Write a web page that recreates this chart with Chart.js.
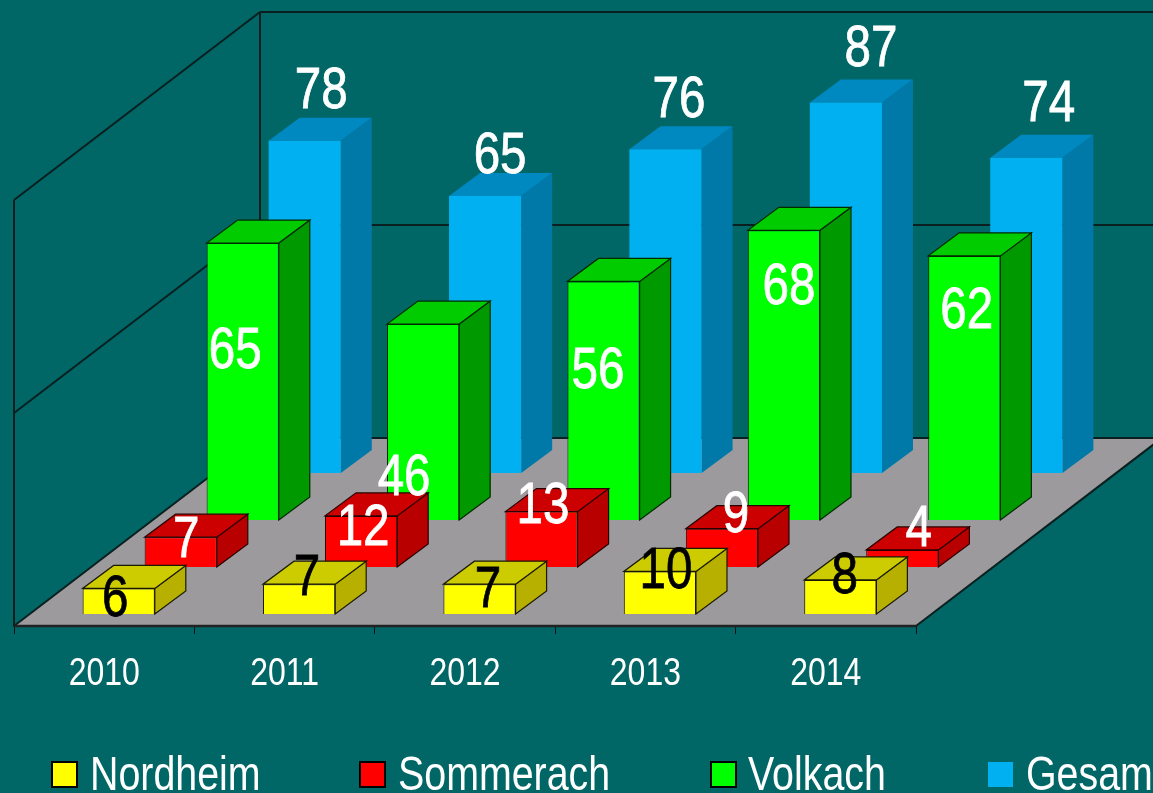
<!DOCTYPE html>
<html><head><meta charset="utf-8">
<style>html,body{margin:0;padding:0;background:#006666;overflow:hidden}canvas{display:block}</style>
<script src="https://cdn.jsdelivr.net/npm/chart.js@4/dist/chart.umd.min.js"></script>
</head><body><canvas id="c" width="1153" height="793"></canvas>
<script>
const categories = ['2010','2011','2012','2013','2014'];
const seriesNames = ['Nordheim','Sommerach','Volkach','Gesamt'];
const nordheim = [6,7,7,10,8];
const sommerach = [7,12,13,9,4];
const volkach = [65,46,56,68,62];
const gesamt = [78,65,76,87,74];
const wallTicks = [0,50,100];

const FONT = '"Liberation Sans",Arial,sans-serif';
const SQUEEZE = 0.82;
const BG = '#006666', FLOOR = '#9C9A9C', LINE = '#0a1f1f';
const fronts = ['#FFFF00','#FF0000','#00FF00','#00B0F0'];
const tops   = ['#CCCC00','#CC0000','#00CC00','#0088C0'];
const sides  = ['#B8B000','#B80000','#009900','#0078A8'];
const strokes= ['#1a1a00','#2a0000','#002a00',null];
const labelColors = ['#000','#fff','#fff','#fff'];
const shift = [[14.5,-12],[76.5,-59],[138.5,-106],[200.5,-153]];
const depth = [31,-23];
const wallDepth = [246,-188];
const nudges = [
  [[-3.5,8],[8,-9],[8.5,3],[6,-3],[4.5,-7]],
  [[5.5,0],[2,9],[1.5,-9],[14,-17],[16.5,-24]],
  [[-7.5,105],[-19,151],[-5.5,87],[5,54],[2.5,52]],
  [[16.5,-53],[15,-43],[13.5,-52],[25,-56],[22.5,-57]]
];
const legendX = [[52,90],[360,398],[711,748],[988,1026]];

function poly(ctx, pts, fill, stroke){
  ctx.beginPath(); pts.forEach((p,i)=> i?ctx.lineTo(p[0],p[1]):ctx.moveTo(p[0],p[1])); ctx.closePath();
  ctx.fillStyle=fill; ctx.fill();
  if(stroke){ctx.strokeStyle=stroke;ctx.lineWidth=1.2;ctx.stroke();}
}
function seg(ctx,a,b,c,w){ctx.beginPath();ctx.moveTo(a[0],a[1]);ctx.lineTo(b[0],b[1]);ctx.strokeStyle=c||LINE;ctx.lineWidth=w||2;ctx.stroke();}
function narrowText(ctx,t,x,y,bold){ctx.save();ctx.translate(x,y);ctx.scale(SQUEEZE,1);ctx.fillText(t,0,0);
  if(bold){ctx.strokeStyle=ctx.fillStyle;ctx.lineWidth=bold;ctx.strokeText(t,0,0);}ctx.restore();}

const scene = {
  id:'scene',
  beforeDraw(chart){
    const c=chart.ctx; c.save(); c.fillStyle=BG; c.fillRect(0,0,chart.width,chart.height); c.restore();
  },
  beforeDatasetsDraw(chart){
    const c=chart.ctx, x=chart.scales.x, y=chart.scales.y;
    const L=x.left,R=x.right,[dx,dy]=wallDepth,y0=y.getPixelForValue(0),yT=y.getPixelForValue(100);
    c.save();
    poly(c,[[L,y0],[R,y0],[R+dx,y0+dy],[L+dx,y0+dy]],FLOOR);
    wallTicks.forEach(v=>{
      const p=y.getPixelForValue(v);
      seg(c,[L,p],[L+dx,p+dy]);
      seg(c,[L+dx,p+dy],[chart.width,p+dy]);
    });
    seg(c,[L,y0],[L,yT]);
    seg(c,[L+dx,y0+dy],[L+dx,yT+dy]);
    seg(c,[L,y0],[R,y0],'#222',2.5);
    seg(c,[R,y0],[R+dx,y0+dy]);
    c.restore();
  },
  beforeDatasetDraw(chart,args){
    const c=chart.ctx,i=args.index,[sx,sy]=shift[i],[ddx,ddy]=depth;
    c.save(); c.translate(sx,sy);
    args.meta.data.forEach(b=>{
      const p=b.getProps(['x','y','base','width'],true);
      const l=p.x-p.width/2,r=p.x+p.width/2,t=p.y,bs=p.base;
      poly(c,[[r,bs],[r+ddx,bs+ddy],[r+ddx,t+ddy],[r,t]],sides[i],strokes[i]);
      poly(c,[[l,t],[r,t],[r+ddx,t+ddy],[l+ddx,t+ddy]],tops[i],strokes[i]);
    });
  },
  afterDatasetDraw(chart){ chart.ctx.restore(); },
  afterDatasetsDraw(chart){
    const c=chart.ctx, x=chart.scales.x;
    c.save(); c.textAlign='center'; c.textBaseline='middle'; c.font='58px '+FONT;
    chart.data.datasets.forEach((ds,i)=>{
      chart.getDatasetMeta(i).data.forEach((b,j)=>{
        const p=b.getProps(['x','y'],true);
        c.fillStyle=labelColors[i];
        narrowText(c,String(ds.data[j]),p.x+shift[i][0]+nudges[i][j][0],p.y+shift[i][1]+nudges[i][j][1]+4,0.8);
      });
    });
    c.font='39px '+FONT; c.fillStyle='#fff';
    categories.forEach((t,i)=>narrowText(c,t,x.getPixelForTick(i),x.top+48.5));
    c.textAlign='left'; c.textBaseline='alphabetic'; c.font='48px '+FONT;
    seriesNames.forEach((n,i)=>{
      const [bx,tx]=legendX[i];
      c.fillStyle=fronts[i]; c.fillRect(bx,762,25,25);
      if(i<3){c.strokeStyle='#000';c.lineWidth=2;c.strokeRect(bx,762,25,25);}
      c.fillStyle='#fff'; narrowText(c,n,tx,790);
    });
    c.restore();
  }
};

const seriesValues=[nordheim,sommerach,volkach,gesamt];
new Chart(document.getElementById('c'),{
  type:'bar',
  data:{labels:categories,datasets:seriesNames.map((n,i)=>({
    label:n,data:seriesValues[i],backgroundColor:fronts[i],borderColor:strokes[i]||fronts[i],borderWidth:strokes[i]?1:0,
    barPercentage:0.4,categoryPercentage:1,clip:false
  }))},
  options:{
    responsive:false,animation:false,
    layout:{padding:{left:14,right:237,top:200,bottom:0}},
    plugins:{legend:{display:false},tooltip:{enabled:false},title:{display:false}},
    scales:{
      x:{stacked:true,
        afterFit(s){s.height=167;},
        grid:{drawOnChartArea:false,drawTicks:true,tickLength:8,color:'#111'},
        border:{display:true,color:'#222',width:2},
        ticks:{display:false}},
      y:{display:false,min:0,max:100}
    }
  },
  plugins:[scene]
});
</script></body></html>
